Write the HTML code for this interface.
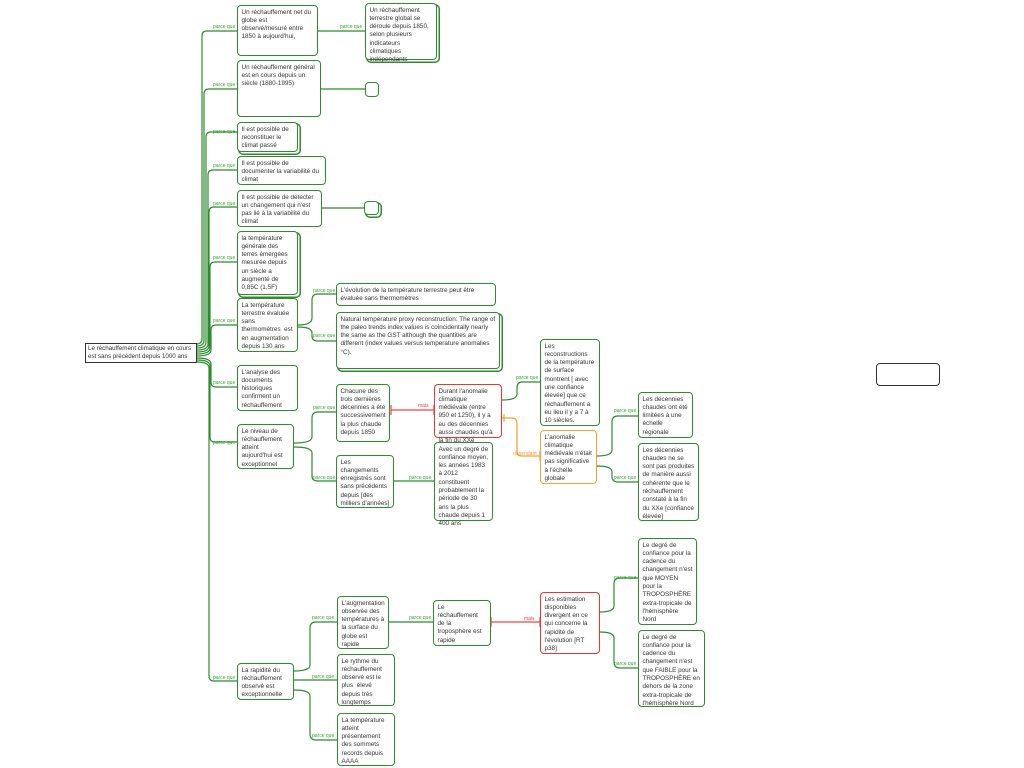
<!DOCTYPE html>
<html><head><meta charset="utf-8"><style>
body{margin:0;width:1024px;height:768px;background:#fff;position:relative;overflow:hidden;font-family:"Liberation Sans",sans-serif}
.b{position:absolute;box-sizing:border-box;border:1.5px solid #2e8b2e;border-radius:4px;background:#fff;font-size:6.35px;line-height:8.3px;color:#333;padding:2.5px 3.5px}
.d{box-shadow:2px 2px 0 -0.5px #fff,2px 2px 0 1px #2e8b2e}
.r{border-color:#e33}
.o{border-color:#f5a030}
.l{position:absolute;font-size:5px;color:#3a3;white-space:nowrap}
svg{position:absolute;left:0;top:0}
</style></head><body>
<svg width="1024" height="768" fill="none" stroke="#2e8b2e" stroke-width="1.2">
<path d="M197 344 Q202 344 202 338 V36 Q202 31 207 31 H237"/>
<path d="M197 346 Q204 346 204 340 V94 Q204 89 209 89 H237"/>
<path d="M197 348 Q206 348 206 342 V137 Q206 132 211 132 H237"/>
<path d="M197 350 Q208 350 208 344 V175 Q208 170 213 170 H237"/>
<path d="M197 352 Q209 352 209 346 V212 Q209 207 214 207 H237"/>
<path d="M197 354 Q210 354 210 348 V267 Q210 262 215 262 H237"/>
<path d="M197 356 Q211 356 211 350 V330 Q211 325 216 325 H237"/>
<path d="M197 358 Q211 358 211 364 V382 Q211 387 216 387 H237"/>
<path d="M197 360 Q210 360 210 366 V437 Q210 442 215 442 H237"/>
<path d="M197 362 Q209 362 209 368 V676 Q209 681 214 681 H237"/>
<path d="M318 31 H365"/><path d="M321 89 H365"/><path d="M322 208 H364"/>
<path d="M298 325 Q312 325 312 318 V300 Q312 294 318 294 H336"/>
<path d="M298 327 Q312 327 312 333 V336 Q312 341 318 341 H336"/>
<path d="M294 443 Q312 443 312 437 V418 Q312 412 318 412 H336"/>
<path d="M294 447 Q312 447 312 453 V476 Q312 481 318 481 H336"/>
<path d="M394 481 H434"/>
<path d="M502 400 Q517 400 517 394 V388 Q517 382 522 382 H540"/>
<path d="M597 456 Q612 456 612 450 V422 Q612 416 618 416 H638"/>
<path d="M597 466 Q612 466 612 472 V476 Q612 482 618 482 H638"/>
<path d="M294 671 Q310 671 310 665 V628 Q310 622 316 622 H337"/>
<path d="M294 680 H337"/>
<path d="M294 690 Q310 690 310 696 V734 Q310 740 316 740 H337"/>
<path d="M389 622 H433"/>
<path d="M600 612 Q614 612 614 606 V584 Q614 578 620 578 H638"/>
<path d="M600 632 Q614 632 614 638 V662 Q614 668 620 668 H638"/>
<g stroke="#e44"><path d="M391 410 H434 M391 405 V415 M434 405 V415"/><path d="M491 622 H540 M491 617 V627 M540 617 V627"/></g>
<g stroke="#f5a030"><path d="M502 418 H512 Q517 418 517 424 V452 Q517 456 522 456 H540 M540 451 V461 M504 414 V422"/></g>
</svg>
<div class="l" style="left:213px;top:24px">parce que</div>
<div class="l" style="left:213px;top:82px">parce que</div>
<div class="l" style="left:213px;top:129px">parce que</div>
<div class="l" style="left:213px;top:163px">parce que</div>
<div class="l" style="left:213px;top:201px">parce que</div>
<div class="l" style="left:213px;top:255px">parce que</div>
<div class="l" style="left:213px;top:318px">parce que</div>
<div class="l" style="left:213px;top:380px">parce que</div>
<div class="l" style="left:213px;top:440px">parce que</div>
<div class="l" style="left:213px;top:675px">parce que</div>
<div class="l" style="left:340px;top:24px">parce que</div>
<div class="l" style="left:313px;top:288px">parce que</div>
<div class="l" style="left:313px;top:333px">parce que</div>
<div class="l" style="left:313px;top:405px">parce que</div>
<div class="l" style="left:313px;top:475px">parce que</div>
<div class="l" style="left:409px;top:475px">parce que</div>
<div class="l" style="left:516px;top:375px">parce que</div>
<div class="l" style="left:614px;top:408px">parce que</div>
<div class="l" style="left:614px;top:475px">parce que</div>
<div class="l" style="left:312px;top:615px">parce que</div>
<div class="l" style="left:312px;top:674px">parce que</div>
<div class="l" style="left:312px;top:733px">parce que</div>
<div class="l" style="left:409px;top:615px">parce que</div>
<div class="l" style="left:614px;top:575px">parce que</div>
<div class="l" style="left:614px;top:661px">parce que</div>
<div class="l" style="left:418px;top:403px;color:#e44">mais</div>
<div class="l" style="left:524px;top:616px;color:#e44">mais</div>
<div class="l" style="left:513px;top:451px;color:#f5a030">dépendant</div>

<div class="b" style="left:85px;top:343px;width:112px;height:20px;border-color:#333;border-radius:0;padding:1px 2px;font-size:6.2px">Le réchauffement climatique en cours est sans précédent depuis 1000 ans</div>
<div class="b" style="left:237px;top:5px;width:81px;height:51px">Un réchauffement net du globe est observé/mesuré entre 1850 à aujourd'hui,</div>
<div class="b d" style="left:365px;top:3px;width:72px;height:57px">Un réchauffement terrestre global se déroule depuis 1850, selon plusieurs indicateurs climatiques indépendants</div>
<div class="b" style="left:237px;top:60px;width:84px;height:57px">Un réchauffement général est en cours depuis un siècle (1880-1995)</div>
<div class="b" style="left:365px;top:82px;width:14px;height:15px"></div>
<div class="b d" style="left:237px;top:122px;width:61px;height:30px">Il est possible de reconstituer le climat passé</div>
<div class="b" style="left:237px;top:156px;width:89px;height:29px">Il est possible de documenter la variabilité du climat</div>
<div class="b" style="left:237px;top:190px;width:85px;height:37px">Il est possible de détecter un changement qui n'est pas lié à la variabilité du climat</div>
<div class="b d" style="left:364px;top:201px;width:15px;height:14px"></div>
<div class="b d" style="left:237px;top:231px;width:61px;height:64px">la température générale des terres émergées mesurée depuis un siècle a augmenté de 0,85C (1,5F)</div>
<div class="b" style="left:237px;top:298px;width:61px;height:54px">La température terrestre évaluée sans thermomètres &nbsp;est en augmentation depuis 130 ans</div>
<div class="b" style="left:336px;top:283px;width:160px;height:23px">L'évolution de la température terrestre peut être évaluée sans thermomètres</div>
<div class="b d" style="left:336px;top:312px;width:164px;height:57px">Natural temperature proxy reconstruction: The range of the paleo trends index values is coincidentally nearly the same as the GST although the quantities are different (index values versus temperature anomalies °C).</div>
<div class="b" style="left:237px;top:365px;width:61px;height:46px">L'analyse des documents historiques confirment un réchauffement</div>
<div class="b" style="left:237px;top:424px;width:57px;height:45px">Le niveau de réchauffement atteint aujourd'hui est exceptionnel</div>
<div class="b" style="left:336px;top:384px;width:54px;height:58px">Chacune des trois dernières décennies a été successivement la plus chaude depuis 1850</div>
<div class="b" style="left:336px;top:455px;width:58px;height:53px">Les changements enregistrés sont sans précédents depuis [des milliers d'années]</div>
<div class="b r" style="left:434px;top:384px;width:68px;height:54px">Durant l'anomalie climatique médiévale (entre 950 et 1250), il y a eu des décennies aussi chaudes qu'à la fin du XXe</div>
<div class="b" style="left:434px;top:442px;width:59px;height:79px">Avec un degré de confiance moyen, les années 1983 à 2012 constituent probablement la période de 30 ans la plus chaude depuis 1 400 ans</div>
<div class="b" style="left:540px;top:339px;width:60px;height:87px">Les reconstructions de la température de surface montrent [ avec une confiance élevée] que ce réchauffement a eu lieu il y a 7 à 10 siècles.</div>
<div class="b o" style="left:540px;top:430px;width:57px;height:54px">L'anomalie climatique médiévale n'était pas significative à l'échelle globale</div>
<div class="b" style="left:638px;top:392px;width:55px;height:46px">Les décennies chaudes ont été limitées à une échelle régionale</div>
<div class="b" style="left:638px;top:443px;width:61px;height:78px">Les décennies chaudes ne se sont pas produites de manière aussi cohérente que le réchauffement constaté à la fin du XXe [confiance élevée]</div>
<div class="b" style="left:876px;top:363px;width:64px;height:23px;border-color:#333"></div>
<div class="b" style="left:237px;top:663px;width:57px;height:37px">La rapidité du réchauffement observé est exceptionnelle</div>
<div class="b" style="left:337px;top:596px;width:52px;height:53px">L'augmentation observée des températures à la surface du globe est rapide</div>
<div class="b" style="left:337px;top:654px;width:58px;height:52px">Le rythme du réchauffement observé est le plus &nbsp;élevé depuis très longtemps</div>
<div class="b" style="left:337px;top:713px;width:58px;height:53px">La température atteint présentement des sommets records depuis AAAA</div>
<div class="b" style="left:433px;top:600px;width:58px;height:46px">Le réchauffement de la troposphère est rapide</div>
<div class="b r" style="left:540px;top:592px;width:60px;height:62px">Les estimation disponibles divergent en ce qui concerne la rapidité de l'évolution [RT p38]</div>
<div class="b" style="left:638px;top:538px;width:59px;height:87px">Le degré de confiance pour la cadence du changement n'est que MOYEN pour la TROPOSPHÈRE extra-tropicale de l'hémisphère Nord</div>
<div class="b" style="left:638px;top:630px;width:67px;height:77px">Le degré de confiance pour la cadence du changement n'est que FAIBLE pour la TROPOSPHÈRE en dehors de la zone extra-tropicale de l'hémisphère Nord</div>
</body></html>
